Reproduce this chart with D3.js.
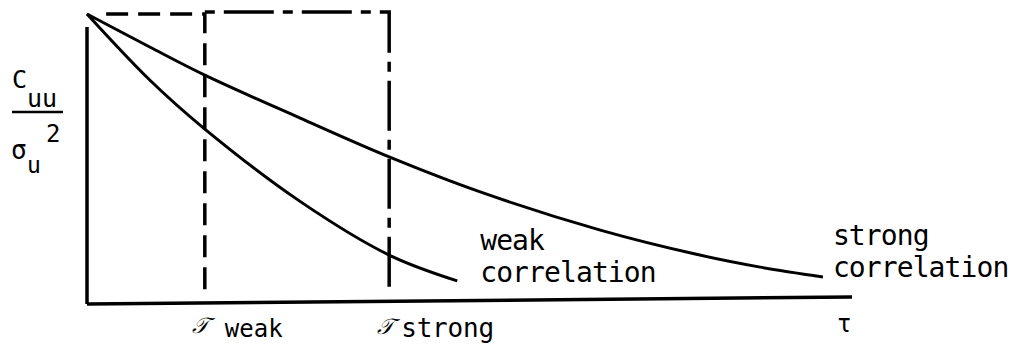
<!DOCTYPE html>
<html>
<head>
<meta charset="utf-8">
<script src="https://cdn.jsdelivr.net/npm/d3@7"></script>
<style>
  html, body { margin: 0; padding: 0; background: #fff; }
  svg { display: block; }
  text { font-family: "DejaVu Sans Mono", "Liberation Mono", monospace; fill: #000; }
</style>
</head>
<body>
<svg id="chart" width="1018" height="352"></svg>
<script>
// Normalised autocorrelation C_uu / sigma_u^2 against time lag tau
const tauStrong = [0, 0.82, 1.54, 2.78, 3.95, 5.14, 6.71, 8.01, 8.80, 9.62];
const corrStrong = [1.0, 0.885, 0.787, 0.638, 0.502, 0.380, 0.247, 0.160, 0.118, 0.084];

const tauWeak = [0, 0.82, 1.54, 2.78, 3.95, 4.84];
const corrWeak = [1.0, 0.770, 0.599, 0.348, 0.160, 0.070];

// Integral time scales (box widths of equal area)
const scaleWeak = 1.54;
const scaleStrong = 3.95;
const boxHeight = 1.0;

const curveLabels = [
  { lines: ["weak", "correlation"], tau: 5.14, v: 0.177 },
  { lines: ["strong", "correlation"], tau: 9.75, v: 0.195 }
];

const svg = d3.select("#chart");
const x = d3.scaleLinear().domain([0, 10]).range([87, 852]);
const y = d3.scaleLinear().domain([0, 1]).range([301, 14]);

const line = d3.line()
  .x(d => x(d[0]))
  .y(d => y(d[1]))
  .curve(d3.curveCatmullRom.alpha(0.5));

// axes
svg.append("line")
  .attr("x1", x(0)).attr("x2", x(0))
  .attr("y1", y(0.955)).attr("y2", y(0) + 3)
  .attr("stroke", "#000").attr("stroke-width", 3.5);
svg.append("line")
  .attr("x1", x(0)).attr("x2", x(10))
  .attr("y1", y(0) + 3).attr("y2", y(0) - 4)
  .attr("stroke", "#000").attr("stroke-width", 3.5);

// equal-area boxes for the two integral scales
svg.append("path")
  .attr("d", `M${x(0.25)},${y(boxHeight)} H${x(scaleWeak)} V${y(0.04)}`)
  .attr("fill", "none").attr("stroke", "#000").attr("stroke-width", 3.5)
  .attr("stroke-dasharray", "22,10");
svg.append("path")
  .attr("d", `M${x(scaleWeak)},${y(boxHeight) - 2} H${x(scaleStrong)} V${y(0.03)}`)
  .attr("fill", "none").attr("stroke", "#000").attr("stroke-width", 3.5)
  .attr("stroke-dasharray", "10,9,50,9");

// correlation curves
svg.append("path")
  .attr("d", line(d3.zip(tauStrong, corrStrong)))
  .attr("fill", "none").attr("stroke", "#000").attr("stroke-width", 3);
svg.append("path")
  .attr("d", line(d3.zip(tauWeak, corrWeak)))
  .attr("fill", "none").attr("stroke", "#000").attr("stroke-width", 3);

// curve labels
curveLabels.forEach(l => {
  const t = svg.append("text")
    .attr("x", x(l.tau)).attr("y", y(l.v))
    .attr("font-size", 28).attr("letter-spacing", "-0.9px");
  l.lines.forEach((s, i) => {
    t.append("tspan").attr("x", x(l.tau)).attr("dy", i === 0 ? 0 : 32).text(s);
  });
});

// x-axis labels
const scriptT = "\u{1D4AF}";
svg.append("text").attr("x", x(scaleWeak) - 13).attr("y", 333)
  .attr("font-size", 22).attr("font-style", "italic").text(scriptT);
svg.append("text").attr("x", x(scaleWeak) + 20).attr("y", 337)
  .attr("font-size", 24).text("weak");
svg.append("text").attr("x", x(scaleStrong) - 12).attr("y", 334)
  .attr("font-size", 22).attr("font-style", "italic").text(scriptT);
svg.append("text").attr("x", x(scaleStrong) + 12).attr("y", 337)
  .attr("font-size", 26).attr("letter-spacing", "-0.2px").text("strong");
svg.append("text").attr("x", 837).attr("y", 332)
  .attr("font-size", 24).text("\u03C4");

// y-axis label: C_uu over sigma_u squared
const yl = svg.append("g");
yl.append("text").attr("x", 12).attr("y", 88).attr("font-size", 25).text("C");
yl.append("text").attr("x", 27).attr("y", 107).attr("font-size", 25).text("uu");
yl.append("line").attr("x1", 12).attr("x2", 63).attr("y1", 112).attr("y2", 112)
  .attr("stroke", "#000").attr("stroke-width", 2.5);
yl.append("text").attr("x", 46).attr("y", 142).attr("font-size", 24).text("2");
yl.append("text").attr("x", 11).attr("y", 159).attr("font-size", 26).text("\u03C3");
yl.append("text").attr("x", 27).attr("y", 173).attr("font-size", 23).text("u");
</script>
</body>
</html>
